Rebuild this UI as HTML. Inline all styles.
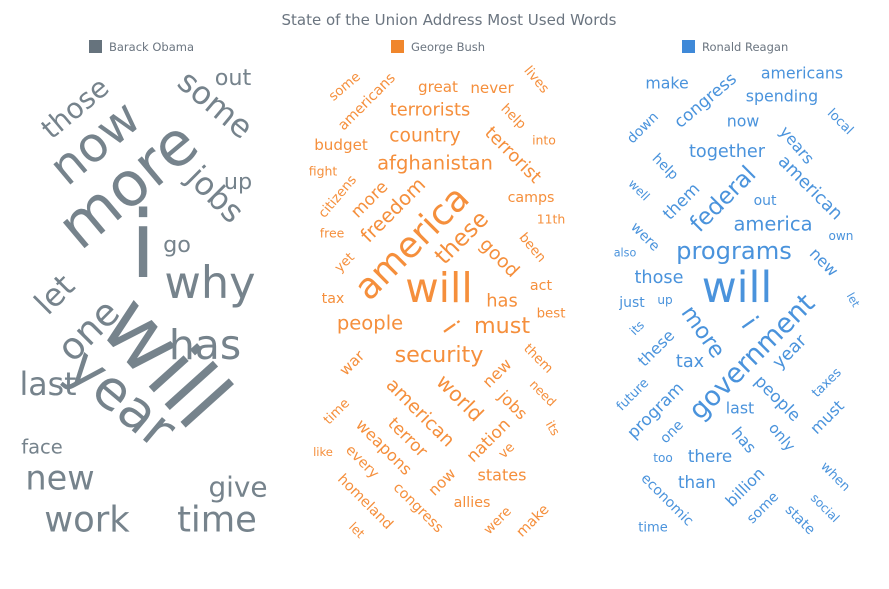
<!DOCTYPE html>
<html><head><meta charset="utf-8"><style>
html,body{margin:0;padding:0;background:#fff;}
svg{display:block;font-family:"DejaVu Sans","Liberation Sans",sans-serif;}
</style></head><body>
<svg id="chart" width="889" height="589" viewBox="0 0 889 589">
<text x="449" y="25" text-anchor="middle" font-size="15" fill="#6b7580">State of the Union Address Most Used Words</text>
<g>
<rect x="89" y="40" width="13" height="13" fill="#66737d"/>
<text x="109" y="51" font-size="11.5" fill="#6b7580">Barack Obama</text>
<rect x="391" y="40" width="13" height="13" fill="#f0862c"/>
<text x="411" y="51" font-size="11.5" fill="#6b7580">George Bush</text>
<rect x="682" y="40" width="13" height="13" fill="#3f89d8"/>
<text x="702" y="51" font-size="11.5" fill="#6b7580">Ronald Reagan</text>
</g>
<g id="clouds"></g>
</svg>
<script>
// Barack Obama
const obamaWords=["those","now","more","some","out","up","jobs","go","i","why","let","one","has","will","year","last","face","new","work","give","time"];
const obamaSizes=[30,52,66,34,24,24,34,24,100,48,34,40,44,92,58,34,21,36,38,30,38];
const obamaAngles=[-40,-40,-40,40,0,0,45,0,0,0,-45,-45,0,48,40,0,0,0,0,0,0];
const obamaX=[75,95,128,215,233,238,215,177,143,210,55,88,205,165,122,48,42,60,87,238,217];
const obamaY=[108,143,185,105,78,182,195,245,245,283,295,330,345,362,398,385,447,478,520,487,520];
// George Bush
const bushWords=["some","americans","great","never","lives","terrorists","help","into","country","terrorist","budget","afghanistan","fight","citizens","more","freedom","camps","11th","america","these","free","good","been","yet","will","act","tax","has","best","people","i","must","security","war","them","new","world","american","jobs","need","time","terror","weapons","its","nation","like","every","ve","states","now","homeland","congress","allies","were","make","let"];
const bushSizes=[15,16,17,17,15,20,15,14,21,20,17,22,14,15,19,22,16,14,40,26,14,21,15,15,46,16,16,20,15,22,28,25,25,17,15,18,23,21,18,14,15,19,18,14,19,13,16,15,18,17,16,16,16,15,16,14];
const bushAngles=[-40,-45,0,0,50,0,45,0,0,45,0,0,0,-50,-45,-45,0,0,-45,-45,0,45,50,-45,0,0,0,0,0,0,55,0,0,-45,45,-45,45,45,45,45,-45,45,45,60,-45,0,45,-45,0,-45,45,45,0,-45,-45,45];
const bushX=[345,367,438,492,536,430,513,544,425,513,341,435,323,338,369,393,531,551,412,462,332,499,532,345,439,541,333,502,551,370,451,502,439,352,538,497,460,420,513,543,337,408,384,553,488,323,362,507,502,442,365,418,472,498,533,357];
const bushY=[87,102,87,88,80,110,117,140,136,155,145,163,171,197,199,210,198,219,243,238,233,258,248,263,288,286,299,301,314,323,327,326,355,363,359,373,398,413,405,393,412,437,447,428,440,452,462,451,475,482,502,508,503,521,521,530];
// Ronald Reagan
const reaganWords=["make","congress","americans","spending","local","down","now","years","together","help","american","well","them","federal","out","america","own","were","also","programs","new","those","will","just","up","let","more","i","government","its","these","tax","year","future","program","people","taxes","last","must","one","has","only","too","there","when","than","billion","economic","some","social","state","time"];
const reaganSizes=[17,18,17,17,14,15,17,17,19,15,19,13,18,25,15,21,13,15,12,26,17,19,46,15,13,12,24,28,29,13,17,19,19,14,18,18,14,17,17,15,17,16,13,18,14,18,17,15,15,13,15,14];
const reaganAngles=[0,-40,0,0,45,-45,0,50,0,45,45,45,-45,-45,0,0,0,45,0,0,45,0,0,0,0,60,55,55,-45,-45,-45,0,-45,-45,-45,45,-45,0,-45,-45,50,50,0,0,45,0,-45,45,-45,45,45,0];
const reaganX=[667,705,802,782,840,643,743,797,727,665,810,639,681,723,765,773,841,645,625,734,824,659,737,632,665,853,703,749,752,637,656,690,790,633,655,778,827,740,827,672,744,782,663,710,835,697,745,667,763,825,800,653];
const reaganY=[83,100,73,96,122,128,121,145,152,167,188,190,201,199,201,224,236,237,253,251,262,278,288,303,300,300,332,323,357,328,348,362,352,395,410,398,383,408,417,432,440,437,458,456,477,482,487,500,508,508,520,528];

const svgNS="http://www.w3.org/2000/svg";
const g=document.getElementById('clouds');
function draw(words,sizes,angles,xs,ys,color,prefix,scale){
  const grp=document.createElementNS(svgNS,'g');
  
  
  for(let i=0;i<words.length;i++){
    const t=document.createElementNS(svgNS,'text');
    
    
    t.setAttribute('x',xs[i]);t.setAttribute('y',ys[i]);
    t.setAttribute('font-size',sizes[i]*scale);
    t.setAttribute('fill',color);
    t.setAttribute('text-anchor','middle');
    t.setAttribute('dominant-baseline','central');
    t.setAttribute('transform','rotate('+angles[i]+' '+xs[i]+' '+ys[i]+')');
    t.textContent=words[i];
    grp.appendChild(t);
  }
  g.appendChild(grp);
}
draw(obamaWords,obamaSizes,obamaAngles,obamaX,obamaY,'#76838c','obama',0.93);
draw(bushWords,bushSizes,bushAngles,bushX,bushY,'#f58f3c','bush',0.89);
draw(reaganWords,reaganSizes,reaganAngles,reaganX,reaganY,'#4a93dc','reagan',0.93);
</script>
</body></html>
